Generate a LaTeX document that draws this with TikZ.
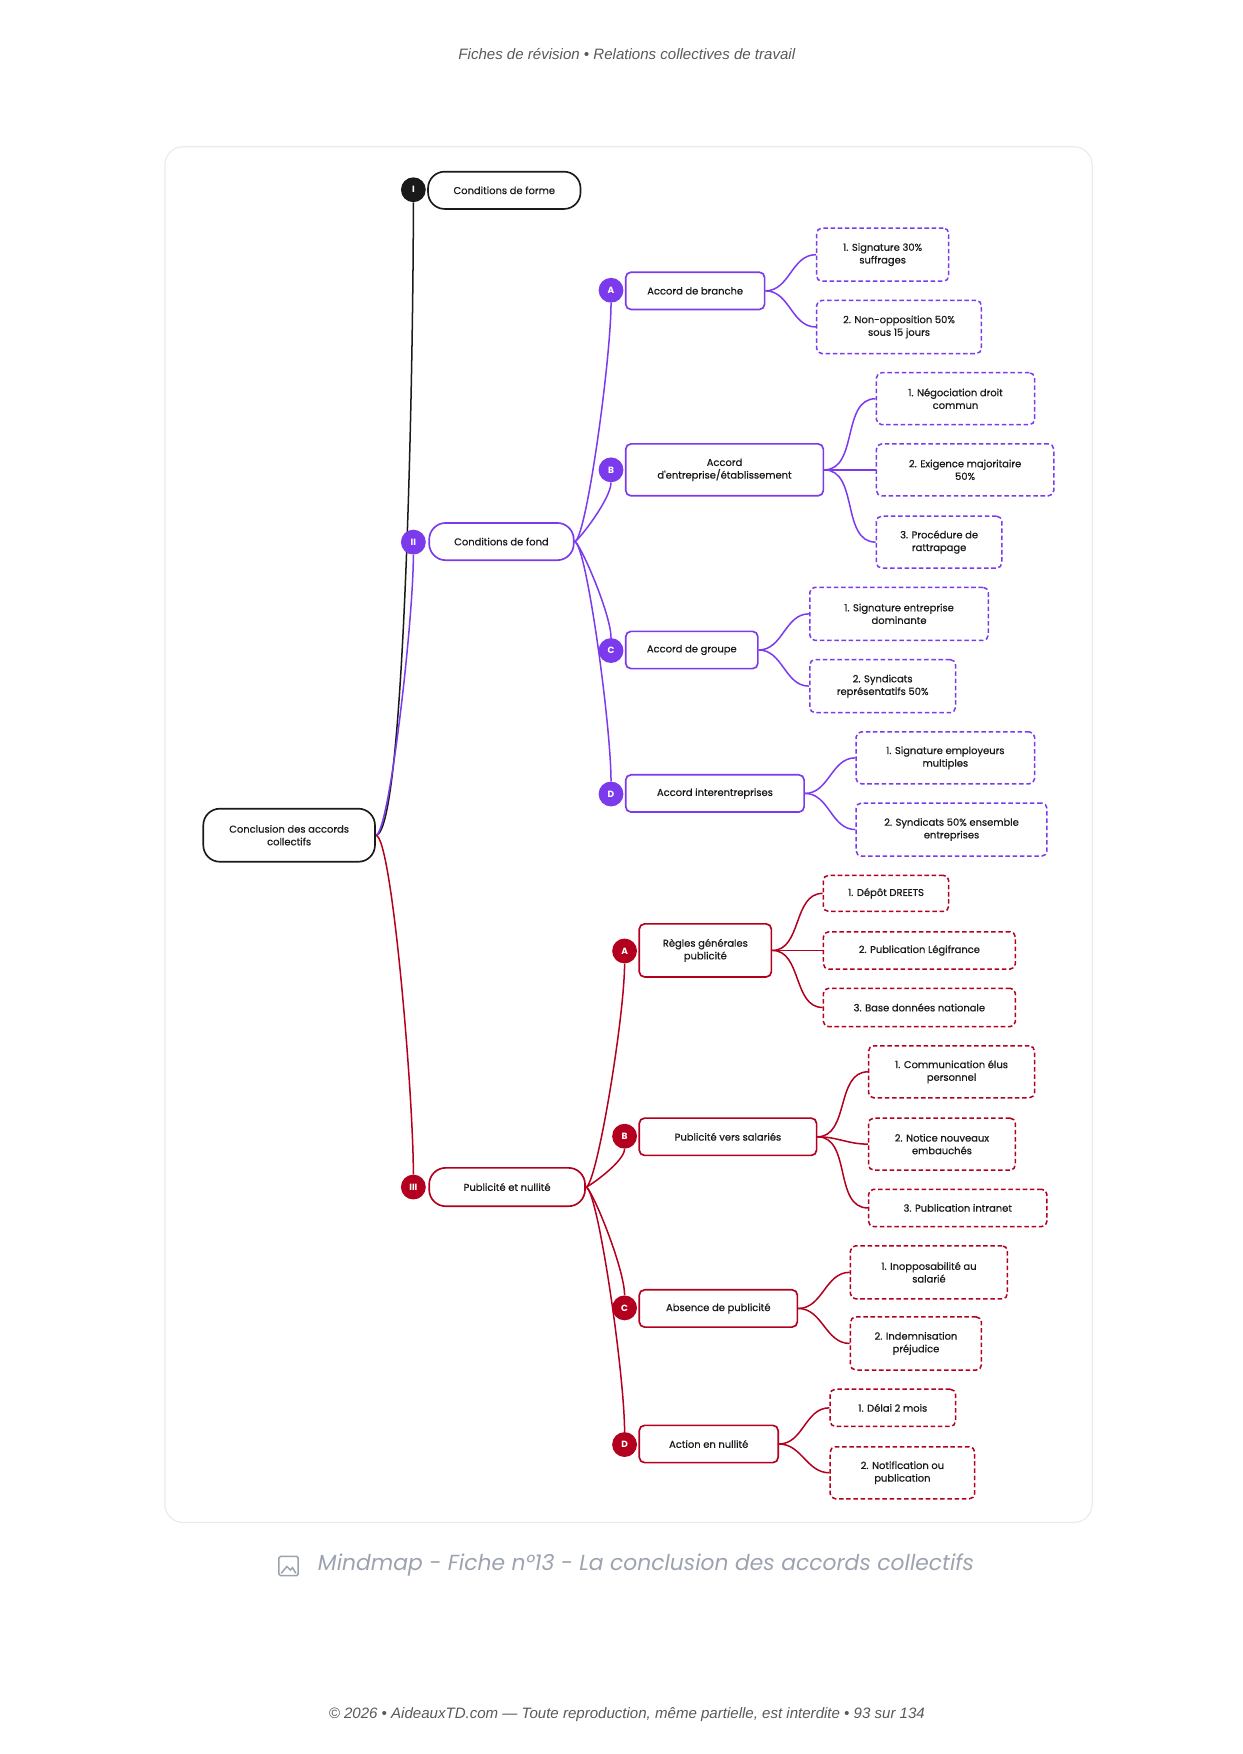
\documentclass[tikz,border=0pt]{standalone}
\usepackage{fontspec}
\setmainfont{Poppins}
\newfontfamily\nf{Poppins}[FakeBold=0.6]
\newfontfamily\hdr{Liberation Sans}
\usetikzlibrary{backgrounds}
\definecolor{pur}{HTML}{7C3AED}
\definecolor{rd}{HTML}{B3001E}
\definecolor{blk}{HTML}{1A1A1A}
\definecolor{capc}{HTML}{9CA3AF}
\newcommand{\bx}[7][]{\node[#1,minimum width={(#4-#2)*0.75pt},minimum height={(#5-#3)*0.75pt}] (#7) at ({(#2+#4)/2},{(#3+#5)/2}) {#6};}
\begin{document}
\begin{tikzpicture}[x=0.75pt,y=-0.75pt,
  base/.style={draw,align=center,inner sep=0pt,font=\nf\fontsize{6.6}{8.4}\selectfont,text=blk,line width=1.1pt,fill=white},
  pill/.style={base,rounded corners=11pt},
  l2/.style={base,rounded corners=3.5pt},
  leaf/.style={base,rounded corners=3.5pt,dash pattern=on 3pt off 1.8pt,line width=1pt},
  num/.style={circle,fill=#1,text=white,inner sep=0pt,minimum size=16.5pt,font=\fontsize{6}{6}\selectfont\bfseries},
  cn/.style={line width=1pt,draw=#1},
  up/.style={out=0,in=-90,out looseness=0.12,in looseness=0.6},
  dn/.style={out=0,in=90,out looseness=0.12,in looseness=0.6}]
\useasboundingbox (0,0) rectangle (1100,1553);
\draw[draw=black!8,line width=0.8pt,rounded corners=12pt] (146,130) rectangle (967,1348);
\node[font=\hdr\itshape\fontsize{10}{12}\selectfont,text=black!65] at (555,48) {Fiches de révision • Relations collectives de travail};
\node[font=\hdr\itshape\fontsize{10}{12}\selectfont,text=black!65] at (555,1518) {© 2026 • AideauxTD.com — Toute reproduction, même partielle, est interdite • 93 sur 134};
\node[font=\itshape\fontsize{14.5}{16}\selectfont,text=capc] (capt) at (572,1386) {Mindmap - Fiche n°13 - La conclusion des accords collectifs};
\draw[draw=capc,line width=1pt,rounded corners=1pt] (247,1378) rectangle (264,1395);
\draw[draw=capc,line width=1pt] (249,1393) -- (254,1387) -- (257,1390) -- (259,1388) -- (262,1393);
% root
\bx[base,rounded corners=11pt,draw=blk]{180}{716}{332}{763}{Conclusion des accords\\collectifs}{root}
% level 1
\bx[pill,draw=blk]{379}{152}{514}{185}{Conditions de forme}{I}
\bx[pill,draw=pur]{380}{463}{508}{496}{Conditions de fond}{II}
\bx[pill,draw=rd]{380}{1034}{518}{1068}{Publicité et nullité}{III}
% purple l2
\bx[l2,draw=pur]{554}{241}{677}{274}{Accord de branche}{pA}
\bx[l2,draw=pur]{554}{393}{729}{439}{Accord\\d'entreprise/établissement}{pB}
\bx[l2,draw=pur]{554}{559}{671}{592}{Accord de groupe}{pC}
\bx[l2,draw=pur]{554}{686}{712}{719}{Accord interentreprises}{pD}
% purple leaves
\bx[leaf,draw=pur]{723}{202}{840}{249}{1. Signature 30\%\\suffrages}{pA1}
\bx[leaf,draw=pur]{723}{266}{869}{313}{2. Non-opposition 50\%\\sous 15 jours}{pA2}
\bx[leaf,draw=pur]{776}{330}{916}{376}{1. Négociation droit\\commun}{pB1}
\bx[leaf,draw=pur]{776}{393}{933}{439}{2. Exigence majoritaire\\50\%}{pB2}
\bx[leaf,draw=pur]{776}{457}{887}{503}{3. Procédure de\\rattrapage}{pB3}
\bx[leaf,draw=pur]{717}{520}{875}{567}{1. Signature entreprise\\dominante}{pC1}
\bx[leaf,draw=pur]{717}{584}{846}{631}{2. Syndicats\\représentatifs 50\%}{pC2}
\bx[leaf,draw=pur]{758}{648}{916}{694}{1. Signature employeurs\\multiples}{pD1}
\bx[leaf,draw=pur]{758}{711}{927}{758}{2. Syndicats 50\% ensemble\\entreprises}{pD2}
% red l2
\bx[l2,draw=rd]{566}{818}{683}{865}{Règles générales\\publicité}{rA}
\bx[l2,draw=rd]{566}{990}{723}{1023}{Publicité vers salariés}{rB}
\bx[l2,draw=rd]{566}{1142}{706}{1175}{Absence de publicité}{rC}
\bx[l2,draw=rd]{566}{1262}{689}{1295}{Action en nullité}{rD}
% red leaves
\bx[leaf,draw=rd]{729}{775}{840}{807}{1. Dépôt DREETS}{rA1}
\bx[leaf,draw=rd]{729}{825}{899}{858}{2. Publication Légifrance}{rA2}
\bx[leaf,draw=rd]{729}{875}{899}{909}{3. Base données nationale}{rA3}
\bx[leaf,draw=rd]{769}{926}{916}{972}{1. Communication élus\\personnel}{rB1}
\bx[leaf,draw=rd]{769}{990}{899}{1036}{2. Notice nouveaux\\embauchés}{rB2}
\bx[leaf,draw=rd]{769}{1053}{927}{1086}{3. Publication intranet}{rB3}
\bx[leaf,draw=rd]{753}{1103}{892}{1150}{1. Inopposabilité au\\salarié}{rC1}
\bx[leaf,draw=rd]{753}{1166}{869}{1213}{2. Indemnisation\\préjudice}{rC2}
\bx[leaf,draw=rd]{735}{1230}{846}{1263}{1. Délai 2 mois}{rD1}
\bx[leaf,draw=rd]{735}{1281}{863}{1327}{2. Notification ou\\publication}{rD2}
% circles
\node[num=blk] (cI) at (366,168) {I};
\node[num=pur] (cII) at (366,480) {II};
\node[num=rd] (cIII) at (366,1051) {III};
\node[num=pur] (cpA) at (541,257) {A};
\node[num=pur] (cpB) at (541,416) {B};
\node[num=pur] (cpC) at (541,576) {C};
\node[num=pur] (cpD) at (541,703) {D};
\node[num=rd] (crA) at (553,842) {A};
\node[num=rd] (crB) at (553,1006) {B};
\node[num=rd] (crC) at (553,1158) {C};
\node[num=rd] (crD) at (553,1279) {D};
% connectors
\begin{scope}[on background layer]
\draw[cn=blk] (root.east) to[up] (cI.south);
\draw[cn=pur] (root.east) to[up] (cII.south);
\draw[cn=rd] (root.east) to[dn] (cIII.north);
\foreach \c in {cpA,cpB} \draw[cn=pur] (II.east) to[up] (\c.south);
\foreach \c in {cpC,cpD} \draw[cn=pur] (II.east) to[dn] (\c.north);
\foreach \c in {crA,crB} \draw[cn=rd] (III.east) to[up] (\c.south);
\foreach \c in {crC,crD} \draw[cn=rd] (III.east) to[dn] (\c.north);
\foreach \p/\l in {pA/pA1,pA/pA2,pB/pB1,pB/pB2,pB/pB3,pC/pC1,pC/pC2,pD/pD1,pD/pD2}
  \draw[cn=pur] (\p.east) to[out=0,in=180] (\l.west);
\foreach \p/\l in {rA/rA1,rA/rA2,rA/rA3,rB/rB1,rB/rB2,rB/rB3,rC/rC1,rC/rC2,rD/rD1,rD/rD2}
  \draw[cn=rd] (\p.east) to[out=0,in=180] (\l.west);
\end{scope}
\end{tikzpicture}
\end{document}
